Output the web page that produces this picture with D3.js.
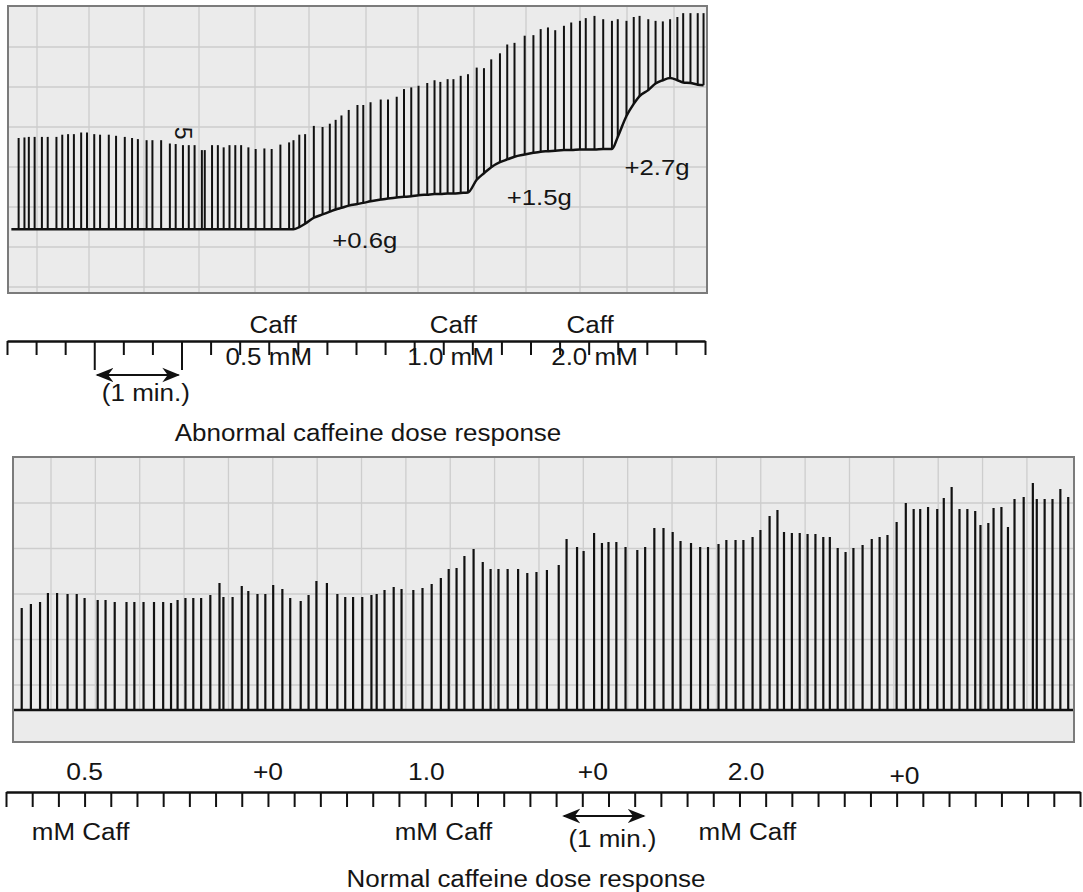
<!DOCTYPE html>
<html>
<head>
<meta charset="utf-8">
<script src="https://cdn.jsdelivr.net/npm/d3@7"></script>
<style>
  body { margin: 0; background: #fff; }
  text { font-family: "Liberation Sans", Arial, Helvetica, sans-serif; fill: #151515; }
</style>
</head>
<body>
<div id="chart"></div>
<script>
// ---- abnormal response (top trace) ----
// time of each twitch (s), resting tension and peak tension (g)
var topTimes = [8,12,15,19,24,28,34,38,42,46, 51,55,60,64,70,75,81,86,90,96,
  100,106,112,116,121,125,129,134,136,141, 145,149,153,157,161,166,171,177,182,188,
  194,197,201,205,211,217,222,226,230,235, 241,245,250,257,262,268,273,278,283,289,
  294,298,303,307,312,317,323,328,333,339, 344,349,356,362,367,372,377,383,388,394,
  398,404,410,416,420,426,431,435,441,446, 451,456,461,465,470,475,479];
var topPeak = [1.66,1.67,1.68,1.68,1.68,1.68,1.68,1.72,1.73,1.73, 1.76,1.76,1.73,1.72,1.72,1.70,1.68,1.66,1.64,1.62,
  1.62,1.62,1.56,1.55,1.53,1.53,1.53,1.44,1.44,1.53, 1.53,1.49,1.53,1.53,1.53,1.49,1.46,1.47,1.46,1.54,
  1.58,1.62,1.72,1.73,1.88,1.86,1.92,1.99,2.07,2.17, 2.26,2.26,2.31,2.36,2.36,2.41,2.55,2.58,2.61,2.66,
  2.71,2.68,2.73,2.73,2.79,2.82,2.94,2.93,3.09,3.20, 3.36,3.39,3.52,3.53,3.64,3.67,3.62,3.70,3.76,3.79,
  3.84,3.88,3.82,3.79,3.82,3.79,3.86,3.88,3.82,3.79, 3.78,3.82,3.86,3.93,3.93,3.93,3.93];
var topRest = [0,0,0,0,0,0,0,0,0,0, 0,0,0,0,0,0,0,0,0,0,
  0,0,0,0,0,0,0,0,0,0, 0,0,0,0,0,0,0,0,0,0,
  0,0,0.04,0.10,0.21,0.27,0.32,0.36,0.39,0.43, 0.46,0.48,0.51,0.54,0.56,0.58,0.59,0.60,0.62,0.63,
  0.64,0.64,0.65,0.65,0.66,0.67,0.90,1.02,1.13,1.22, 1.27,1.32,1.36,1.39,1.41,1.42,1.43,1.44,1.44,1.45,
  1.45,1.45,1.46,1.46,1.68,2.06,2.28,2.42,2.53,2.65, 2.71,2.75,2.71,2.67,2.66,2.63,2.62];

var topCaffTimes = [183, 307, 401];
var topDoseTimes = [180, 305, 404];
var topDoseLabels = ["0.5 mM", "1.0 mM", "2.0 mM"];
var tensionLabels = ["+0.6g", "+1.5g", "+2.7g"];
var tensionTimes = [246, 366, 447];
var tensionLevels = [-0.2, 0.59, 1.13];

// ---- normal response (bottom trace) ----
var botTimes = [12,19,26,32,39,47,54,60,70,76, 83,92,98,105,113,120,126,131,137,143,
  149,156,163,166,173,180,185,192,198,204, 211,217,225,231,237,245,253,259,265,
  272,279,283,289,296,302,311,318,325,332, 338,344,350,357,364,370,376,383,391,398,
  405,413,422,428,436,441,449,455,460,466, 473,482,488,495,502,509,515,523,530,536, 544,550,
  557,563,570,576,583,589,594,600,606,612, 618,624,629,635,641,647,654,661,667,673,
  680,687,693,698,704,711,716,722,728,734, 740,744,750,754,760,765,770,777,784,787, 793,799,805,811];
var botPeak = [20.4,21.2,21.6,23.4,23.4,23.2,23.2,22.4,22.0,22.0, 21.6,21.6,21.6,21.6,21.6,21.6,21.4,22.0,22.4,22.4,
  22.4,23.0,25.4,22.6,22.6,24.8,23.8,23.2,23.2,25.0, 24.2,22.4,21.8,23.0,25.8,25.4,23.2,22.6,22.6,
  22.6,23.0,23.2,24.0,24.6,24.2,24.0,24.4,25.2,26.4, 28.2,28.4,30.8,32.2,29.6,28.2,28.2,28.2,28.2,27.4,
  27.6,28.0,29.0,34.2,32.6,31.8,35.4,33.4,33.6,33.6, 32.6,32.0,32.6,36.4,36.4,35.6,33.8,33.4,32.6,32.6, 33.2,34.0,
  34.0,34.0,34.6,36.0,38.8,40.0,35.6,35.4,35.4,35.2, 35.2,34.6,34.6,32.4,31.6,32.4,33.0,34.2,34.6,35.0,
  37.6,41.4,40.2,40.2,40.6,40.2,42.4,44.6,40.2,40.2, 39.8,37.0,37.4,40.4,40.6,36.6,42.2,42.6,45.4,42.2, 42.2,42.2,44.2,42.6];

var botTopLabels = ["0.5", "+0", "1.0", "+0", "2.0", "+0"];
var botTopTimes = [60, 200, 321, 448, 565, 686];
var botCaffTimes = [57, 334, 566];

function init() {
  var w = 1083, h = 892;
  var svg = d3.select("#chart").append("svg")
    .attr("width", w).attr("height", h);

  var defs = svg.append("defs");
  defs.append("marker").attr("id", "head")
    .attr("viewBox", "0 0 10 10").attr("refX", 9).attr("refY", 5)
    .attr("markerWidth", 9).attr("markerHeight", 9)
    .attr("orient", "auto-start-reverse")
    .append("path").attr("d", "M0,1 L10,5 L0,9 L3,5 Z").attr("fill", "#111");

  // centred label; the scanned lettering is a bit wider than Arial
  function label(g, x, y, txt, sx) {
    return g.append("text")
      .attr("transform", "translate(" + x + "," + y + ") scale(" + sx + ",1)")
      .attr("dy", "0.35em").attr("text-anchor", "middle")
      .attr("font-size", 23).text(txt);
  }

  function panel(x0, y0, x1, y1, gx, gy, gyBottom) {
    svg.append("rect")
      .attr("x", x0).attr("y", y0)
      .attr("width", x1 - x0).attr("height", y1 - y0)
      .attr("fill", "#ebebeb");
    svg.append("g").selectAll("line").data(gx).enter().append("line")
      .attr("x1", d => d).attr("x2", d => d)
      .attr("y1", y0).attr("y2", gyBottom)
      .attr("stroke", "#cdcdcd").attr("stroke-width", 1.3);
    svg.append("g").selectAll("line").data(gy).enter().append("line")
      .attr("x1", x0).attr("x2", x1)
      .attr("y1", d => d).attr("y2", d => d)
      .attr("stroke", "#cdcdcd").attr("stroke-width", 1.3);
  }
  function frame(x0, y0, x1, y1) {
    svg.append("rect")
      .attr("x", x0).attr("y", y0)
      .attr("width", x1 - x0).attr("height", y1 - y0)
      .attr("fill", "none").attr("stroke", "#7b7b7b").attr("stroke-width", 2);
  }

  // ===== top panel =====
  var xTop = d3.scaleLinear().domain([0, 480]).range([7, 705]);
  var yTop = d3.scaleLinear().domain([0, 4]).range([229.3, 9.3]);

  // chart paper of the top recording is slightly uneven
  var topPaperX = [37, 89, 144, 199, 255, 309, 366, 418, 474, 526, 580, 627, 674];
  panel(8, 6, 707, 293, topPaperX,
    d3.range(7).map(i => 47 + i * 40), 293);

  var topData = topTimes.map((t, i) => ({ t: t, rest: topRest[i], peak: topPeak[i] }));

  svg.append("g").selectAll("line").data(topData).enter().append("line")
    .attr("x1", d => xTop(d.t)).attr("x2", d => xTop(d.t))
    .attr("y1", d => yTop(d.rest)).attr("y2", d => yTop(d.peak))
    .attr("stroke", "#111").attr("stroke-width", 2);

  var restLine = d3.line()
    .x(d => xTop(d.t)).y(d => yTop(d.rest))
    .curve(d3.curveMonotoneX);
  svg.append("path")
    .datum([{ t: 3, rest: topRest[0] }].concat(topData))
    .attr("fill", "none").attr("stroke", "#111").attr("stroke-width", 2.5)
    .attr("d", restLine);

  frame(8, 6, 707, 293);

  var tl = svg.append("g");
  tensionLabels.forEach(function(d, i) {
    label(tl, xTop(tensionTimes[i]), yTop(tensionLevels[i]), d, 1.12);
  });

  svg.append("text")
    .attr("transform", "translate(" + xTop(121) + "," + yTop(1.75) + ") rotate(90)")
    .attr("dy", "0.35em").attr("text-anchor", "middle")
    .attr("font-size", 23).text("5");

  // ruler under the top trace
  var topRuler = d3.axisBottom(xTop)
    .tickValues(d3.range(0, 481, 20))
    .tickSize(14).tickSizeOuter(0).tickFormat("");
  var tr = svg.append("g").attr("transform", "translate(0,341)").call(topRuler);
  tr.select(".domain").attr("stroke", "#111").attr("stroke-width", 2.5);
  tr.selectAll(".tick line").attr("stroke", "#111").attr("stroke-width", 2);
  tr.selectAll(".tick").filter(d => d === 60 || d === 120)
    .select("line").attr("y2", 29);

  svg.append("line")
    .attr("x1", xTop(60) + 3).attr("x2", xTop(120) - 3)
    .attr("y1", 375).attr("y2", 375)
    .attr("stroke", "#111").attr("stroke-width", 2)
    .attr("marker-start", "url(#head)").attr("marker-end", "url(#head)");
  label(svg, xTop(90) + 8, 393, "(1 min.)", 1.13);

  var tc = svg.append("g");
  topCaffTimes.forEach(function(t) { label(tc, xTop(t), 325, "Caff", 1.13); });
  topDoseLabels.forEach(function(d, i) { label(tc, xTop(topDoseTimes[i]), 357, d, 1.13); });

  label(svg, 368, 433, "Abnormal caffeine dose response", 1.13);

  // ===== bottom panel =====
  var xBot = d3.scaleLinear().domain([0, 820]).range([6, 1080]);
  var yBot = d3.scaleLinear().domain([0, 50]).range([710, 460]);

  panel(13, 457, 1074, 742,
    d3.range(23).map(i => 51 + i * 44.36),
    d3.range(5).map(i => 503 + i * 45.5), 710);

  var botData = botTimes.map((t, i) => ({ t: t, peak: botPeak[i] }));
  svg.append("g").selectAll("line").data(botData).enter().append("line")
    .attr("x1", d => xBot(d.t)).attr("x2", d => xBot(d.t))
    .attr("y1", yBot(0)).attr("y2", d => yBot(d.peak))
    .attr("stroke", "#111").attr("stroke-width", 2.2);

  svg.append("line")
    .attr("x1", 13).attr("x2", 1074)
    .attr("y1", yBot(0)).attr("y2", yBot(0))
    .attr("stroke", "#111").attr("stroke-width", 2.5);

  frame(13, 457, 1074, 742);

  var botRuler = d3.axisBottom(xBot)
    .tickValues(d3.range(0, 821, 20))
    .tickSize(15).tickSizeOuter(0).tickFormat("");
  var br = svg.append("g").attr("transform", "translate(0,792)").call(botRuler);
  br.select(".domain").attr("stroke", "#111").attr("stroke-width", 2.5);
  br.selectAll(".tick line").attr("stroke", "#111").attr("stroke-width", 2);

  var bl = svg.append("g");
  botTopLabels.forEach(function(d, i) {
    label(bl, xBot(botTopTimes[i]), i === 5 ? 776 : 772, d, 1.15);
  });
  botCaffTimes.forEach(function(t) { label(bl, xBot(t), 832, "mM Caff", 1.13); });

  svg.append("line")
    .attr("x1", xBot(426)).attr("x2", xBot(487))
    .attr("y1", 816).attr("y2", 816)
    .attr("stroke", "#111").attr("stroke-width", 2)
    .attr("marker-start", "url(#head)").attr("marker-end", "url(#head)");
  label(svg, xBot(463), 839, "(1 min.)", 1.13);

  label(svg, 526, 879, "Normal caffeine dose response", 1.13);
}

window.onload = init;
</script>
</body>
</html>
